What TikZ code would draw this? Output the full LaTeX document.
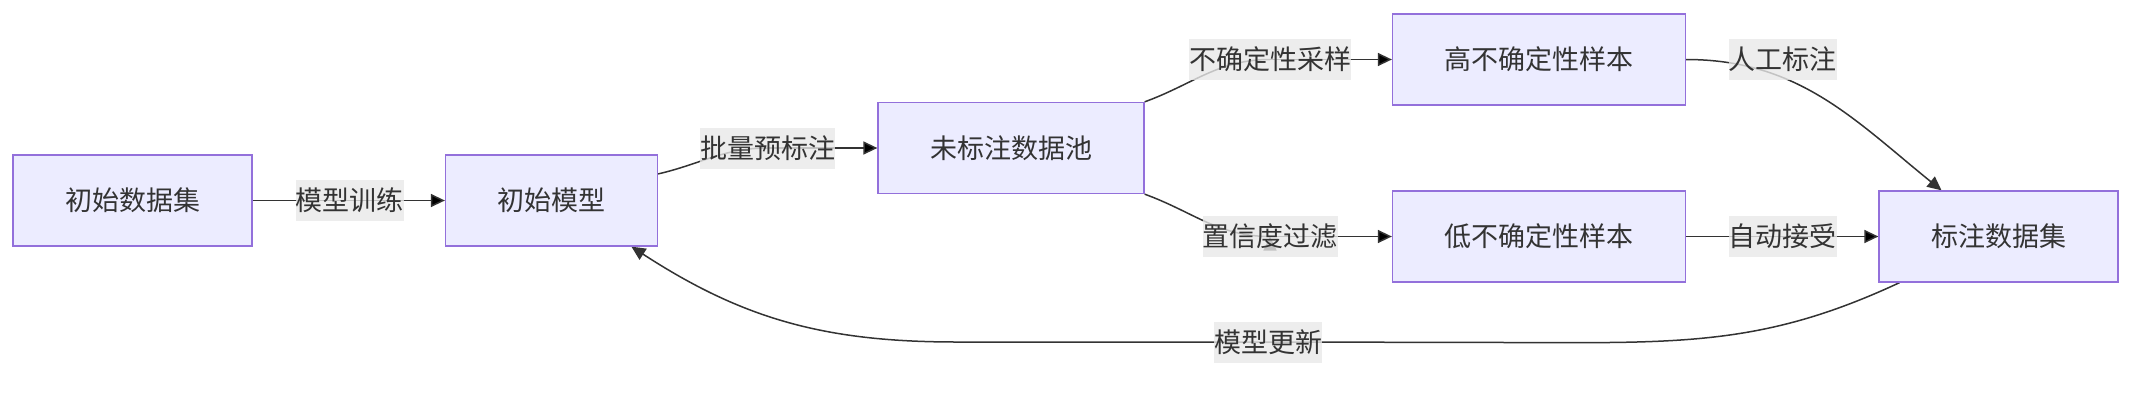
\documentclass[tikz,border=0pt]{standalone}
\usepackage{fontspec}
\usetikzlibrary{arrows.meta,backgrounds}
\newfontfamily\cjk{Noto Sans CJK SC}
\definecolor{boxfill}{HTML}{ECECFF}
\definecolor{boxline}{HTML}{9370DB}
\definecolor{linec}{HTML}{333333}
\definecolor{lblfill}{HTML}{E8E8E8}
\definecolor{txt}{HTML}{333333}

\begin{document}
\begin{tikzpicture}[x=1pt,y=1pt,>={Triangle[length=14pt,width=13pt]}]
			\tikzstyle{stage}=[rectangle,draw=boxline,fill=boxfill,line width=1.3pt,text=txt,font=\cjk\fontsize{27}{32}\selectfont,inner xsep=52pt,inner ysep=0pt,minimum height=91pt]
			\tikzstyle{tag}=[rectangle,fill=lblfill,fill opacity=0.8,text opacity=1,text=txt,font=\cjk\fontsize{27}{32}\selectfont,inner xsep=0pt,inner ysep=0pt,minimum height=41pt]
			\tikzstyle{flow}=[draw=linec,line width=1.5pt]
			\useasboundingbox (0,0) rectangle (2133,-402);
				\node[stage](init) at (132.5,-200.5){初始数据集};
				\node[stage](model) at (551.5,-200.5){初始模型};
				\node[stage](pool) at (1011,-148){未标注数据池};
				\node[stage](high) at (1539,-59.5){高不确定性样本};
				\node[stage](low) at (1539,-236.5){低不确定性样本};
				\node[stage](labeled) at (1998.5,-236.5){标注数据集};
				\node[tag](train) at (349.5,-200.5){模型训练};
				\node[tag](prelabel) at (767.5,-148){批量预标注};
				\node[tag](sample) at (1270,-59.5){不确定性采样};
				\node[tag](filter) at (1270,-236.5){置信度过滤};
				\node[tag](manual) at (1782.5,-59.5){人工标注};
				\node[tag](auto) at (1782.5,-236.5){自动接受};
				\node[tag](update) at (1268,-342){模型更新};
			\begin{pgfonlayer}{background}
				\path[flow,->]
					(init) edge (model)
					(model.14) edge[out=13,in=180,-] (prelabel.center)
					(prelabel.center) edge (pool)
					(pool.north east) edge[out=20,in=180,-] (sample.center)
					(sample.center) edge (high)
					(pool.south east) edge[out=-20,in=180,-] (filter.center)
					(filter.center) edge (low)
					(low) edge (labeled);
				\draw[flow,->] (high.east) to[out=0,in=141] (labeled.141);
				\draw[flow,->] (labeled.205) to[out=205,in=0] ++(-321,-60) -- (update.center)
					-- ++(-311,0) to[out=180,in=-33] (model.-30);
			\end{pgfonlayer}
\end{tikzpicture}
\end{document}
